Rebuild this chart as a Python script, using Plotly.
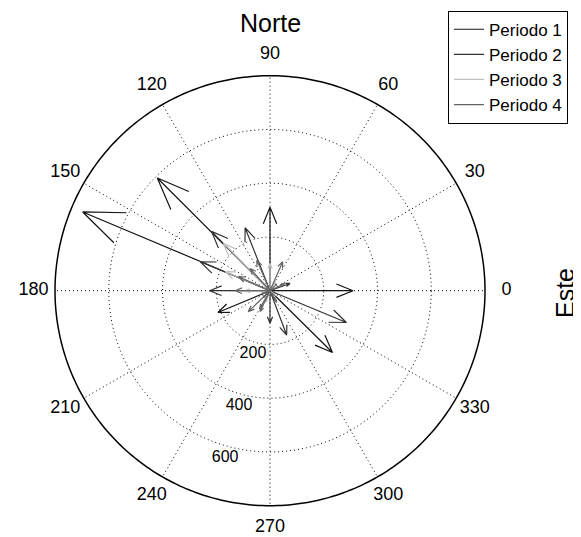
import numpy as np
import plotly.graph_objects as go

# ---- data: (direction in degrees, magnitude) per period ----
p1_theta = [157.2, 135.0, 0.0, 315.3, 90.0, 202.7]
p1_mag   = [756, 593, 309, 327, 311, 210]

p2_theta = [337.4, 111.6, 134.6, 157.5, 290.6, 180.0, 270.0, 20.0, 300.0, 225.0]
p2_mag   = [308, 252, 310, 281, 176, 225, 121, 79, 38, 35]

p3_theta = [90.0, 180.0, 157.0, 134.6, 250.0, 60.0, 320.0]
p3_mag   = [102, 93, 181, 247, 45, 40, 30]

p4_theta = [180.0, 66.4, 113.4, 131.8, 224.0, 244.5, 240.0, 156.0, 300.0, 26.0, 45.0, 200.0]
p4_mag   = [130, 118, 124, 111, 112, 86, 75, 128, 50, 60, 35, 32]

series_names = ["Periodo 1", "Periodo 2", "Periodo 3", "Periodo 4"]
series_colors = ["#141414", "#333333", "#c0c0c0", "#646464"]

ring_values = [200, 400, 600]
ring_labels = ["200", "400", "600"]
r_max = 800
angle_ticks = list(range(0, 360, 30))
angle_labels = [str(a) for a in angle_ticks]

# MATLAB-style compass arrow: shaft to tip, head points at 0.8 +/- 0.08i
head_r = np.hypot(0.8, 0.08)
head_dth = np.degrees(np.arctan2(0.08, 0.8))


def arrows(thetas, mags):
    rr, tt = [], []
    for th, m in zip(thetas, mags):
        rr += [0, m, m * head_r, m, m * head_r, None]
        tt += [th, th, th + head_dth, th, th - head_dth, None]
    return rr, tt


fig = go.Figure()

# ---- grid (MATLAB polar style) ----
circ = np.linspace(0, 360, 361)
dot = dict(color="black", width=1, dash="1px,3px")
for v in ring_values:
    fig.add_trace(go.Scatterpolar(r=[v] * len(circ), theta=circ, mode="lines", line=dot,
                                  showlegend=False, hoverinfo="skip"))
sp_r, sp_t = [], []
for a in angle_ticks:
    sp_r += [0, r_max, None]
    sp_t += [a, a, None]
fig.add_trace(go.Scatterpolar(r=sp_r, theta=sp_t, mode="lines", line=dot,
                              showlegend=False, hoverinfo="skip", connectgaps=False))
fig.add_trace(go.Scatterpolar(r=[r_max] * len(circ), theta=circ, mode="lines",
                              line=dict(color="black", width=1.5),
                              showlegend=False, hoverinfo="skip"))

# ---- arrows ----
all_series = [(p1_theta, p1_mag), (p2_theta, p2_mag), (p3_theta, p3_mag), (p4_theta, p4_mag)]
for (th, mg), name, col in zip(all_series, series_names, series_colors):
    rr, tt = arrows(th, mg)
    fig.add_trace(go.Scatterpolar(r=rr, theta=tt, mode="lines", name=name,
                                  line=dict(color=col, width=1.2),
                                  connectgaps=False, hoverinfo="skip"))

# angle labels at 1.1 * rmax (like MATLAB)
fig.add_trace(go.Scatterpolar(r=[r_max * 1.1] * len(angle_ticks), theta=angle_ticks,
                              mode="text", text=angle_labels, showlegend=False,
                              cliponaxis=False, hoverinfo="skip",
                              textfont=dict(size=18, color="black")))
# ring labels
fig.add_trace(go.Scatterpolar(r=[v + 45 for v in ring_values], theta=[255] * len(ring_values),
                              mode="text", text=ring_labels, showlegend=False,
                              cliponaxis=False, hoverinfo="skip",
                              textfont=dict(size=16, color="black")))

# page body has an 8px margin: work in reference pixels, shift by 8
OFF = 8
W, H = 581 - OFF, 537 - OFF
cx, cy = 270 - OFF, 290.7 - OFF
Rd = 215 * 1.1  # domain radius covers r = 1.1 * rmax


def px(X):
    return (X - OFF) / W


def py(Y):
    return 1 - (Y - OFF) / H


fig.update_layout(
    width=W, height=H,
    margin=dict(l=0, r=0, t=0, b=0),
    paper_bgcolor="white",
    font=dict(family="Liberation Sans, Arial, sans-serif", color="black"),
    polar=dict(
        domain=dict(x=[(cx - Rd) / W, (cx + Rd) / W], y=[(H - cy - Rd) / H, (H - cy + Rd) / H]),
        bgcolor="rgba(0,0,0,0)",
        radialaxis=dict(range=[0, r_max * 1.1], visible=False, showgrid=False),
        angularaxis=dict(visible=False, showgrid=False, showline=False,
                         direction="counterclockwise", rotation=0),
    ),
    legend=dict(x=px(448), y=py(10.7), xanchor="left", yanchor="top",
                bordercolor="black", borderwidth=1, bgcolor="white",
                font=dict(size=17, color="black")),
    annotations=[
        dict(text="Norte", x=px(270), y=1, xref="paper", yref="paper",
             showarrow=False, font=dict(size=25), xanchor="center", yanchor="top",
             borderpad=0),
        dict(text="Este", x=px(565), y=py(293), xref="paper", yref="paper",
             showarrow=False, font=dict(size=25), textangle=-90,
             xanchor="center", yanchor="middle", borderpad=0),
    ],
)

fig.write_html("out.html")
